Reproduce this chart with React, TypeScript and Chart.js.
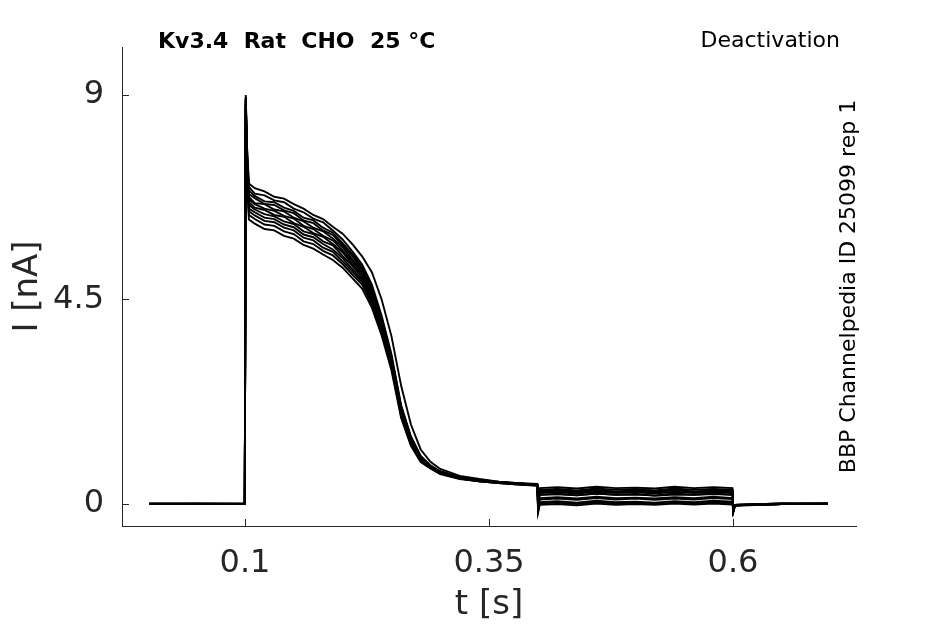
import { useEffect, useRef } from "react";
import { Chart, registerables, Plugin } from "chart.js";

Chart.register(...registerables);

// sample times of the sweeps (s)
const TIME_S = [
  0.002, 0.0998, 0.1008, 0.102, 0.104, 0.11, 0.12, 0.13, 0.14, 0.15, 0.16, 0.17,
  0.18, 0.19, 0.2, 0.21, 0.22, 0.23, 0.24, 0.25, 0.26, 0.27, 0.28, 0.29, 0.3,
  0.32, 0.34, 0.36, 0.38, 0.3995, 0.4003, 0.402, 0.42, 0.44, 0.46, 0.48, 0.5,
  0.52, 0.54, 0.56, 0.58, 0.5995, 0.6003, 0.602, 0.65, 0.697,
];

// current of each sweep (nA)
const SWEEP_1 = [
  0, 0.01, 8.95, 7.9, 7.05, 6.95, 6.88, 6.76, 6.72, 6.6, 6.5, 6.36, 6.27, 6.1, 5.95,
  5.72, 5.45, 5.1, 4.5, 3.7, 2.6, 1.75, 1.2, 0.93, 0.77, 0.62, 0.55, 0.49, 0.46, 0.43,
  0.12, 0.29, 0.32, 0.28, 0.31, 0.27, 0.3, 0.28, 0.32, 0.27, 0.3, 0.28, -0.15, -0.03, 0, 0.01,
];
const SWEEP_2 = [
  0, 0, 9.0, 7.85, 6.98, 6.83, 6.79, 6.68, 6.64, 6.5, 6.42, 6.28, 6.2, 6.02, 5.82,
  5.56, 5.27, 4.83, 4.14, 3.3, 2.17, 1.49, 1.06, 0.85, 0.72, 0.6, 0.53, 0.49, 0.46, 0.44,
  0.05, 0.2, 0.22, 0.19, 0.23, 0.2, 0.22, 0.18, 0.21, 0.2, 0.23, 0.2, -0.16, -0.02, 0.01, 0,
];
const SWEEP_3 = [
  0.01, 0, 8.9, 7.75, 6.9, 6.78, 6.66, 6.64, 6.52, 6.45, 6.3, 6.24, 6.08, 5.97, 5.74,
  5.5, 5.22, 4.75, 4.08, 3.26, 2.14, 1.46, 1.05, 0.84, 0.71, 0.59, 0.52, 0.48, 0.45, 0.42,
  0.18, 0.35, 0.37, 0.34, 0.38, 0.35, 0.36, 0.34, 0.38, 0.35, 0.37, 0.35, -0.14, -0.02, 0, 0.01,
];
const SWEEP_4 = [
  0, 0, 8.85, 7.7, 6.82, 6.73, 6.6, 6.58, 6.46, 6.4, 6.24, 6.18, 6.02, 5.92, 5.69,
  5.45, 5.18, 4.71, 4.05, 3.23, 2.11, 1.45, 1.03, 0.84, 0.71, 0.59, 0.52, 0.48, 0.45, 0.42,
  -0.04, 0.13, 0.15, 0.12, 0.16, 0.13, 0.14, 0.12, 0.15, 0.13, 0.16, 0.13, -0.15, -0.03, 0, 0,
];
const SWEEP_5 = [
  0, 0.01, 8.95, 7.65, 6.76, 6.62, 6.6, 6.48, 6.44, 6.3, 6.22, 6.08, 6.0, 5.84, 5.65,
  5.38, 5.14, 4.67, 4.01, 3.2, 2.09, 1.43, 1.02, 0.83, 0.7, 0.58, 0.52, 0.48, 0.44, 0.42,
  0.1, 0.27, 0.29, 0.26, 0.3, 0.27, 0.29, 0.26, 0.3, 0.27, 0.29, 0.27, -0.15, -0.02, 0.01, 0,
];
const SWEEP_6 = [
  0, 0, 8.8, 7.6, 6.7, 6.6, 6.5, 6.45, 6.34, 6.28, 6.12, 6.05, 5.9, 5.8, 5.58,
  5.34, 5.08, 4.63, 3.97, 3.17, 2.07, 1.41, 1.01, 0.82, 0.7, 0.58, 0.52, 0.48, 0.45, 0.42,
  -0.13, 0.04, 0.06, 0.03, 0.07, 0.04, 0.05, 0.03, 0.06, 0.04, 0.07, 0.05, -0.16, -0.03, 0, 0.01,
];
const SWEEP_7 = [
  0, 0, 8.9, 7.55, 6.64, 6.52, 6.47, 6.36, 6.32, 6.18, 6.1, 5.96, 5.88, 5.72, 5.54,
  5.28, 5.04, 4.59, 3.94, 3.14, 2.04, 1.4, 1.0, 0.82, 0.7, 0.58, 0.52, 0.47, 0.45, 0.42,
  0.14, 0.31, 0.33, 0.3, 0.34, 0.31, 0.33, 0.3, 0.34, 0.31, 0.33, 0.31, -0.14, -0.02, 0, 0,
];
const SWEEP_8 = [
  0.01, 0, 8.85, 7.5, 6.58, 6.48, 6.38, 6.33, 6.22, 6.16, 6.0, 5.94, 5.78, 5.69, 5.46,
  5.24, 4.98, 4.55, 3.9, 3.11, 2.02, 1.38, 0.99, 0.81, 0.69, 0.57, 0.51, 0.47, 0.44, 0.41,
  -0.07, 0.1, 0.12, 0.09, 0.13, 0.1, 0.12, 0.09, 0.12, 0.1, 0.13, 0.11, -0.15, -0.03, 0, 0,
];
const SWEEP_9 = [
  0, 0, 8.75, 7.45, 6.5, 6.42, 6.3, 6.27, 6.15, 6.09, 5.93, 5.87, 5.72, 5.6, 5.41,
  5.17, 4.93, 4.5, 3.86, 3.08, 1.99, 1.36, 0.97, 0.8, 0.68, 0.57, 0.51, 0.47, 0.44, 0.41,
  0.03, 0.2, 0.22, 0.19, 0.23, 0.2, 0.21, 0.19, 0.23, 0.2, 0.22, 0.2, -0.15, -0.02, 0.01, 0,
];
const SWEEP_10 = [
  0, 0.01, 8.8, 7.4, 6.44, 6.35, 6.23, 6.2, 6.08, 6.02, 5.86, 5.8, 5.64, 5.55, 5.34,
  5.12, 4.88, 4.45, 3.82, 3.04, 1.96, 1.33, 0.96, 0.8, 0.68, 0.56, 0.5, 0.46, 0.44, 0.41,
  -0.16, 0.01, 0.03, 0, 0.04, 0.01, 0.02, 0, 0.03, 0.01, 0.04, 0.02, -0.17, -0.03, 0, 0,
];
const SWEEP_11 = [
  0, 0, 8.7, 7.35, 6.36, 6.27, 6.15, 6.12, 6.0, 5.94, 5.78, 5.72, 5.57, 5.47, 5.28,
  5.05, 4.83, 4.4, 3.78, 3.0, 1.93, 1.31, 0.94, 0.79, 0.67, 0.56, 0.5, 0.46, 0.43, 0.41,
  0.07, 0.24, 0.26, 0.23, 0.27, 0.24, 0.26, 0.23, 0.27, 0.24, 0.26, 0.24, -0.15, -0.02, 0, 0.01,
];
const SWEEP_12 = [
  0, 0, 8.65, 7.3, 6.26, 6.17, 6.05, 6.02, 5.9, 5.84, 5.7, 5.62, 5.49, 5.37, 5.2,
  4.97, 4.74, 4.32, 3.71, 2.95, 1.89, 1.28, 0.92, 0.78, 0.66, 0.55, 0.5, 0.46, 0.43, 0.4,
  -0.19, -0.02, 0, -0.03, 0.01, -0.02, 0, -0.02, 0.01, -0.01, 0.01, -0.01, -0.18, -0.04, 0, 0,
];

const SWEEPS = [
  SWEEP_1, SWEEP_2, SWEEP_3, SWEEP_4, SWEEP_5, SWEEP_6,
  SWEEP_7, SWEEP_8, SWEEP_9, SWEEP_10, SWEEP_11, SWEEP_12,
];

const X_TICKS = [0.1, 0.35, 0.6];
const Y_TICKS = [0, 4.5, 9];

const TITLE = "Kv3.4  Rat  CHO  25 °C";
const PROTOCOL = "Deactivation";
const SOURCE = "BBP Channelpedia ID 25099 rep 1";
const X_LABEL = "t [s]";
const Y_LABEL = "I [nA]";

const FONT = "'DejaVu Sans', sans-serif";
const AXIS_COLOR = "#262626";

// inward tick marks and all the free text
const decorations: Plugin<"line"> = {
  id: "decorations",
  afterDraw(chart) {
    const { ctx, chartArea, scales } = chart;
    const xs = scales.x;
    const ys = scales.y;
    ctx.save();
    ctx.strokeStyle = AXIS_COLOR;
    ctx.lineWidth = 1;
    ctx.beginPath();
    X_TICKS.forEach((v) => {
      const px = Math.round(xs.getPixelForValue(v)) + 0.5;
      ctx.moveTo(px, chartArea.bottom);
      ctx.lineTo(px, chartArea.bottom - 7);
    });
    Y_TICKS.forEach((v) => {
      const py = Math.round(ys.getPixelForValue(v)) + 0.5;
      ctx.moveTo(chartArea.left, py);
      ctx.lineTo(chartArea.left + 7, py);
    });
    ctx.stroke();

    const midY = (chartArea.top + chartArea.bottom) / 2;
    const midX = (chartArea.left + chartArea.right) / 2;

    ctx.fillStyle = "#000";
    ctx.textBaseline = "alphabetic";
    ctx.font = `bold 22px ${FONT}`;
    ctx.textAlign = "left";
    ctx.fillText(TITLE, 158, 48);
    ctx.font = `22px ${FONT}`;
    ctx.textAlign = "right";
    ctx.fillText(PROTOCOL, 840, 47);

    ctx.save();
    ctx.translate(849, midY);
    ctx.rotate(-Math.PI / 2);
    ctx.textAlign = "center";
    ctx.textBaseline = "middle";
    ctx.fillText(SOURCE, 0, 0);
    ctx.restore();

    ctx.fillStyle = AXIS_COLOR;
    ctx.font = `34px ${FONT}`;
    ctx.textAlign = "center";
    ctx.textBaseline = "middle";
    ctx.fillText(X_LABEL, midX, 605);

    ctx.translate(28, midY);
    ctx.rotate(-Math.PI / 2);
    ctx.fillText(Y_LABEL, 0, 0);
    ctx.restore();
  },
};

const SweepChart = () => {
  const canvasRef = useRef<HTMLCanvasElement>(null);

  useEffect(() => {
    const chart = new Chart(canvasRef.current as HTMLCanvasElement, {
      type: "line",
      data: {
        datasets: SWEEPS.map((sweep, i) => ({
          label: `sweep ${i + 1}`,
          data: TIME_S.map((t, j) => ({ x: t, y: sweep[j] })),
          borderColor: "#000",
          borderWidth: 1.9,
          pointRadius: 0,
          fill: false,
          tension: 0,
        })),
      },
      options: {
        animation: false,
        responsive: true,
        maintainAspectRatio: false,
        layout: { padding: { top: 47, right: 89, left: 0, bottom: 0 } },
        scales: {
          x: {
            type: "linear",
            min: -0.026,
            max: 0.726,
            afterFit: (s) => {
              s.height = 98;
            },
            afterBuildTicks: (s) => {
              s.ticks = X_TICKS.map((v) => ({ value: v }));
            },
            grid: { display: false, drawTicks: false },
            border: { display: true, color: AXIS_COLOR, width: 1 },
            ticks: {
              autoSkip: false,
              maxRotation: 0,
              padding: 18,
              color: AXIS_COLOR,
              font: { family: FONT, size: 32 },
              callback: (v) => String(v),
            },
          },
          y: {
            type: "linear",
            min: -0.484,
            max: 10.056,
            afterFit: (s) => {
              s.width = 122;
            },
            afterBuildTicks: (s) => {
              s.ticks = Y_TICKS.map((v) => ({ value: v }));
            },
            grid: { display: false, drawTicks: false },
            border: { display: true, color: AXIS_COLOR, width: 1 },
            ticks: {
              autoSkip: false,
              padding: 18,
              color: AXIS_COLOR,
              font: { family: FONT, size: 32 },
              callback: (v) => String(v),
            },
          },
        },
        plugins: {
          legend: { display: false },
          tooltip: { enabled: false },
          title: { display: false },
        },
      },
      plugins: [decorations],
    });

    return () => chart.destroy();
  }, []);

  return <canvas ref={canvasRef} />;
};

const App = () => {
  return (
    <div style={{ position: "fixed", left: 0, top: 0, width: 945, height: 624, background: "#fff" }}>
      <SweepChart />
    </div>
  );
};

export default App;
